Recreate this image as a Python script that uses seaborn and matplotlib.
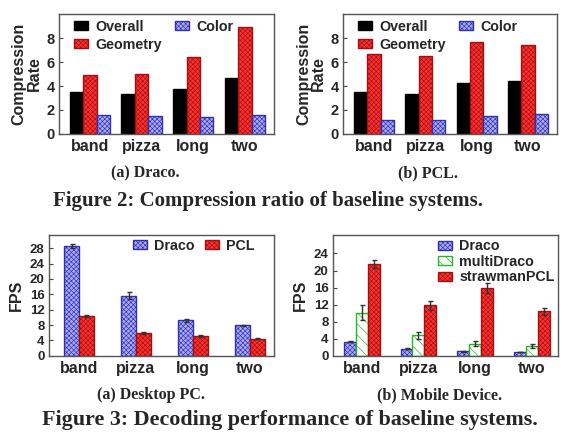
import matplotlib
matplotlib.use("Agg")
import matplotlib.pyplot as plt
import pandas as pd
import seaborn as sns

sns.set_theme(style="white")
plt.rcParams["font.family"] = ["Liberation Sans", "DejaVu Sans"]
plt.rcParams["font.weight"] = "bold"
plt.rcParams["hatch.linewidth"] = 0.45

datasets = ["band", "pizza", "long", "two"]

# Figure 2: compression rate
comp_series = ["Overall", "Geometry", "Color"]
draco_overall = [3.5, 3.35, 3.75, 4.7]
draco_geometry = [4.9, 5.0, 6.45, 8.9]
draco_color = [1.6, 1.5, 1.4, 1.6]
pcl_overall = [3.5, 3.35, 4.25, 4.4]
pcl_geometry = [6.7, 6.5, 7.7, 7.45]
pcl_color = [1.2, 1.15, 1.5, 1.65]

# Figure 3a: desktop FPS
desk_series = ["Draco", "PCL"]
desk_draco = [28.5, 15.6, 9.2, 7.9]
desk_draco_err = [0.5, 0.9, 0.4, 0.2]
desk_pcl = [10.3, 5.9, 5.1, 4.5]
desk_pcl_err = [0.2, 0.3, 0.2, 0.1]

# Figure 3b: mobile FPS
mob_series = ["Draco", "multiDraco", "strawmanPCL"]
mob_draco = [3.3, 1.7, 1.1, 0.9]
mob_draco_err = [0.1, 0.2, 0.1, 0.1]
mob_multi = [10.1, 4.8, 2.8, 2.3]
mob_multi_err = [1.8, 0.8, 0.6, 0.5]
mob_straw = [21.6, 11.8, 15.9, 10.4]
mob_straw_err = [0.9, 1.1, 1.1, 0.9]

STYLES = {
    "black": dict(facecolor="black", edgecolor="black", hatch=None),
    "red": dict(facecolor="#ff3030", edgecolor="#a01010", hatch="xxxxxxx"),
    "blue": dict(facecolor="#a8a8ff", edgecolor="#3030a8", hatch="xxxxxxx"),
    "green": dict(facecolor="white", edgecolor="#22b822", hatch="\\\\\\"),
}


def long_df(series, values):
    rows = []
    for name, vals in zip(series, values):
        for d, v in zip(datasets, vals):
            rows.append({"dataset": d, "series": name, "value": v})
    return pd.DataFrame(rows)


def bar_panel(ax, series, values, styles, width, ylim, yticks, ylabel, xlim,
              errs=None, legend_kw=None, labelspacing=0.1):
    df = long_df(series, values)
    sns.barplot(data=df, x="dataset", y="value", hue="series", hue_order=series,
                order=datasets, width=width, ax=ax, legend=False, errorbar=None,
                palette=["#888888"] * len(series))
    for cont, st in zip(ax.containers, styles):
        s = STYLES[st]
        for p in cont.patches:
            p.set_facecolor(s["facecolor"])
            p.set_edgecolor(s["edgecolor"])
            p.set_linewidth(1.0)
            if s["hatch"]:
                p.set_hatch(s["hatch"])
    if errs is not None:
        for cont, err in zip(ax.containers, errs):
            xs = [p.get_x() + p.get_width() / 2 for p in cont.patches]
            ys = [p.get_height() for p in cont.patches]
            ax.errorbar(xs, ys, yerr=err, fmt="none", ecolor="#333333",
                        elinewidth=1, capsize=1.8, capthick=1)
    ax.set_ylim(*ylim)
    ax.set_xlim(*xlim)
    ax.set_yticks(yticks)
    ax.set_xlabel("")
    ax.set_ylabel(ylabel, fontsize=11.5, fontweight="bold", linespacing=1.0)
    ax.tick_params(axis="y", direction="in", length=3, width=0.8, pad=3,
                   labelsize=10.5, left=True, color="#444444")
    ax.tick_params(axis="x", length=0, pad=4, labelsize=11.5)
    for t in ax.get_xticklabels() + ax.get_yticklabels():
        t.set_fontweight("bold")
    for sp in ax.spines.values():
        sp.set_color("#555555")
        sp.set_linewidth(1.0)
    if legend_kw is not None:
        leg = ax.legend(ax.containers, series, frameon=False,
                        prop={"weight": "bold", "size": 10.3},
                        handlelength=1.0, handleheight=0.6, handletextpad=0.5,
                        borderaxespad=0.0, borderpad=0.0,
                        labelspacing=labelspacing, **legend_kw)
        for h in leg.legend_handles:
            h.set_linewidth(1.0)


fig = plt.figure(figsize=(5.67, 4.42), dpi=100)

ax_a = fig.add_axes([0.104, 0.697, 0.379, 0.271])
bar_panel(ax_a, comp_series, [draco_overall, draco_geometry, draco_color],
          ["black", "red", "blue"], 0.78, (0, 10), [0, 2, 4, 6, 8],
          "Compression\nRate", (-0.6, 3.56), labelspacing=0.3,
          legend_kw=dict(ncol=2, loc="upper left", columnspacing=0.9,
                         bbox_to_anchor=(0.07, 0.955)))
ax_a.yaxis.set_label_coords(-0.08, 0.5)

ax_b = fig.add_axes([0.605, 0.697, 0.377, 0.271])
bar_panel(ax_b, comp_series, [pcl_overall, pcl_geometry, pcl_color],
          ["black", "red", "blue"], 0.78, (0, 10), [0, 2, 4, 6, 8],
          "Compression\nRate", (-0.6, 3.56), labelspacing=0.3,
          legend_kw=dict(ncol=2, loc="upper left", columnspacing=0.9,
                         bbox_to_anchor=(0.07, 0.955)))
ax_b.yaxis.set_label_coords(-0.08, 0.5)

ax_c = fig.add_axes([0.086, 0.195, 0.397, 0.273])
bar_panel(ax_c, desk_series, [desk_draco, desk_pcl], ["blue", "red"], 0.52,
          (0, 31.4), list(range(0, 29, 4)), "FPS", (-0.53, 3.42),
          errs=[desk_draco_err, desk_pcl_err],
          legend_kw=dict(ncol=2, loc="upper right", columnspacing=0.7,
                         bbox_to_anchor=(0.915, 0.97)))
ax_c.tick_params(axis="y", labelsize=9.5)
ax_c.yaxis.set_label_coords(-0.11, 0.5)

ax_d = fig.add_axes([0.587, 0.195, 0.397, 0.273])
bar_panel(ax_d, mob_series, [mob_draco, mob_multi, mob_straw],
          ["blue", "green", "red"], 0.63, (0, 28.3), list(range(0, 25, 4)),
          "FPS", (-0.51, 3.46),
          errs=[mob_draco_err, mob_multi_err, mob_straw_err],
          legend_kw=dict(ncol=1, loc="upper right",
                         bbox_to_anchor=(0.985, 0.965)))
ax_d.tick_params(axis="y", labelsize=9.5)
ax_d.yaxis.set_label_coords(-0.11, 0.5)

serif = ["Liberation Serif", "DejaVu Serif"]
fig.text(0.256, 1 - 173 / 442, "(a) Draco.", ha="center", va="center",
         family=serif, fontsize=11.5, fontweight="bold")
fig.text(0.755, 1 - 173 / 442, "(b) PCL.", ha="center", va="center",
         family=serif, fontsize=11.5, fontweight="bold")
fig.text(0.472, 1 - 201 / 442, "Figure 2: Compression ratio of baseline systems.",
         ha="center", va="center", family=serif, fontsize=15, fontweight="bold")
fig.text(0.267, 1 - 395 / 442, "(a) Desktop PC.", ha="center", va="center",
         family=serif, fontsize=11.5, fontweight="bold")
fig.text(0.776, 1 - 395 / 442, "(b) Mobile Device.", ha="center", va="center",
         family=serif, fontsize=11.5, fontweight="bold")
fig.text(0.512, 1 - 420 / 442, "Figure 3: Decoding performance of baseline systems.",
         ha="center", va="center", family=serif, fontsize=15.8, fontweight="bold")

fig.savefig("out.png", dpi=100)
